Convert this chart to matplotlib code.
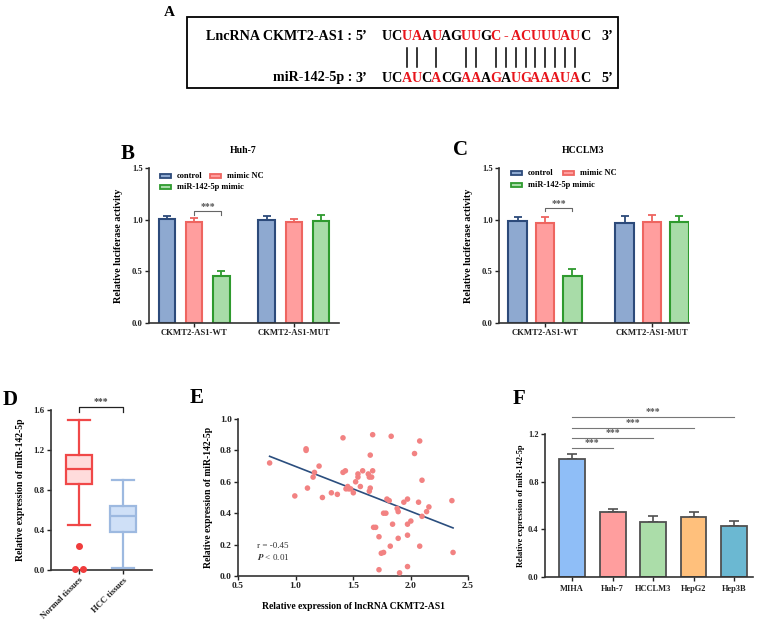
import matplotlib
matplotlib.use('Agg')
import matplotlib.pyplot as plt
from matplotlib.patches import Rectangle
import numpy as np

plt.rcParams['font.family'] = ['Liberation Serif', 'DejaVu Serif']
plt.rcParams['font.weight'] = 'bold'
plt.rcParams['axes.labelweight'] = 'bold'
plt.rcParams['mathtext.fontset'] = 'stix'

W, H = 765, 624

# ---------------- data ----------------
# A: binding site
lnc_label = "LncRNA CKMT2-AS1 :"
mir_label = "miR-142-5p :"
lnc_seq = "UCUAAUAGUUGC-ACUUUAUC"
mir_seq = "UCAUCACGAAAGAUGAAAUAC"
lnc_red = [2, 3, 5, 8, 9, 11, 12, 13, 14, 15, 16, 17, 18, 19]
mir_red = [2, 3, 5, 8, 9, 11, 13, 14, 15, 16, 17, 18, 19]
pair_idx = [2, 3, 5, 8, 9, 11, 12, 13, 14, 15, 16, 17, 18, 19]

# B / C: luciferase
luc_groups = ['CKMT2-AS1-WT', 'CKMT2-AS1-MUT']
luc_series = ['control', 'mimic NC', 'miR-142-5p mimic']
huh7_control = [1.005, 0.997]
huh7_nc = [0.977, 0.977]
huh7_mimic = [0.458, 0.987]
huh7_control_err = [0.035, 0.040]
huh7_nc_err = [0.040, 0.030]
huh7_mimic_err = [0.050, 0.058]
lm3_control = [0.988, 0.965]
lm3_nc = [0.972, 0.978]
lm3_mimic = [0.457, 0.975]
lm3_control_err = [0.036, 0.072]
lm3_nc_err = [0.052, 0.066]
lm3_mimic_err = [0.063, 0.058]

# D: tissues box plot
tissue_labels = ['Normal tissues', 'HCC tissues']
normal_box = [0.453, 0.86, 1.013, 1.153, 1.50]   # whislo, q1, med, q3, whishi
hcc_box = [0.017, 0.38, 0.537, 0.643, 0.903]
normal_out_x = [1.0, 0.9, 1.1]
normal_out_y = [0.243, 0.01, 0.01]

# E: correlation
lnc_expr = [0.775, 0.994, 1.092, 1.092, 1.104, 1.153, 1.165, 1.205, 1.234, 1.312,
            1.364, 1.413, 1.413, 1.434, 1.439, 1.454, 1.462, 1.48, 1.503, 1.523,
            1.543, 1.543, 1.564, 1.584, 1.671, 1.671, 1.65, 1.642, 1.633, 1.642,
            1.662, 1.65, 1.679, 1.697, 1.726, 1.726, 1.746, 1.766, 1.766, 1.786,
            1.795, 1.815, 1.832, 1.824, 1.844, 1.884, 1.893, 1.893, 1.905, 1.942,
            1.974, 1.974, 1.974, 1.974, 2.003, 2.035, 2.07, 2.08, 2.08, 2.10,
            2.10, 2.14, 2.16, 2.36, 2.37]
mir_expr = [0.72, 0.51, 0.81, 0.80, 0.56, 0.63, 0.66, 0.70, 0.50, 0.53,
            0.52, 0.88, 0.66, 0.67, 0.555, 0.57, 0.555, 0.555, 0.53, 0.60,
            0.63, 0.65, 0.57, 0.67, 0.90, 0.67, 0.56, 0.54, 0.65, 0.63,
            0.63, 0.77, 0.31, 0.31, 0.25, 0.04, 0.145, 0.15, 0.40, 0.40,
            0.49, 0.48, 0.89, 0.19, 0.33, 0.43, 0.41, 0.24, 0.02, 0.47,
            0.49, 0.33, 0.26, 0.06, 0.35, 0.78, 0.47, 0.19, 0.86, 0.61,
            0.38, 0.41, 0.44, 0.48, 0.15]
fit_slope = -0.286
fit_intercept = 0.984
r_text = "r = -0.45"

# F: cell lines
cell_lines = ['MIHA', 'Huh-7', 'HCCLM3', 'HepG2', 'Hep3B']
cell_expr = [0.988, 0.549, 0.461, 0.505, 0.430]
cell_err = [0.042, 0.025, 0.052, 0.044, 0.036]
cell_colors = ['#8FBEF7', '#FF9E9E', '#ABDDA9', '#FFC07C', '#6BB8D2']
cell_sig_y = [1.08, 1.165, 1.25, 1.34]

# ---------------- figure ----------------
fig = plt.figure(figsize=(W / 100, H / 100), dpi=100)
fa = fig.add_axes([0, 0, 1, 1])
fa.set_xlim(0, W)
fa.set_ylim(H, 0)
fa.axis('off')


def px_axes(l, t, r, b):
    return fig.add_axes([l / W, 1 - b / H, (r - l) / W, (b - t) / H])


def style(ax, fs=6.2):
    for s in ['top', 'right']:
        ax.spines[s].set_visible(False)
    for s in ['left', 'bottom']:
        ax.spines[s].set_linewidth(1.2)
        ax.spines[s].set_color('#333333')
    ax.tick_params(direction='out', length=3, width=1, labelsize=fs, pad=1.5, colors='#222222')


# panel letters
for lab, x, y, fs in [('A', 169, 12, 11), ('B', 128, 154, 15), ('C', 461, 150, 15),
                      ('D', 10, 400, 15), ('E', 197, 398, 15), ('F', 519, 399, 15)]:
    fa.text(x, y, lab, fontsize=fs, ha='center', va='center', fontweight='bold')

# ---- A ----
fa.add_patch(Rectangle((187, 17), 431, 71, fill=False, lw=1.3, ec='black'))
pitch = 9.9
x0 = 382
afs = 10.2
fa.text(352, 40.5, lnc_label, ha='right', va='baseline', fontsize=afs)
fa.text(361, 40.5, "5\u2019", ha='center', va='baseline', fontsize=afs)
fa.text(352, 81.5, mir_label, ha='right', va='baseline', fontsize=afs)
fa.text(361, 81.5, "3\u2019", ha='center', va='baseline', fontsize=afs)
fa.text(607, 40.5, "3\u2019", ha='center', va='baseline', fontsize=afs)
fa.text(607, 81.5, "5\u2019", ha='center', va='baseline', fontsize=afs)
for i, ch in enumerate(lnc_seq):
    fa.text(x0 + pitch * (i + 0.5), 40.5, ch, ha='center', va='baseline', fontsize=afs,
            color='#E8141B' if i in lnc_red else 'black')
for i, ch in enumerate(mir_seq):
    fa.text(x0 + pitch * (i + 0.5), 81.5, ch, ha='center', va='baseline', fontsize=afs,
            color='#E8141B' if i in mir_red else 'black')
for i in pair_idx:
    xp = x0 + pitch * (i + 0.5)
    fa.plot([xp, xp], [48, 67], color='black', lw=1.1)

# ---- B / C ----
fill_cols = ['#8EA9D0', '#FF9E9E', '#A8DCA8']
edge_cols = ['#2C4A7A', '#EE6560', '#2E9A2E']


def luc_panel(rect, means, errs, gap, width, xlim, title, title_x, br, leg):
    ax = px_axes(*rect)
    for j in range(3):
        xs = [g * gap + j for g in range(2)]
        ax.bar(xs, means[j], width=width, color=fill_cols[j], edgecolor=edge_cols[j],
               linewidth=1.5, zorder=2)
        ax.errorbar(xs, means[j], yerr=[[0, 0], errs[j]], fmt='none', ecolor=edge_cols[j],
                    elinewidth=1.3, capsize=3, capthick=1.3, zorder=1)
    ax.set_xlim(*xlim)
    ax.set_ylim(0, 1.5)
    ax.set_yticks([0, 0.5, 1.0, 1.5])
    ax.set_yticklabels(['0.0', '0.5', '1.0', '1.5'])
    ax.set_xticks([g * gap + 1 for g in range(2)])
    ax.set_xticklabels(luc_groups)
    style(ax)
    ax.set_ylabel('Relative luciferase activity', fontsize=7.3)
    ax.yaxis.set_label_coords(-0.137, 0.5)
    ax.text(title_x, 1.11, title, transform=ax.transAxes, ha='center', va='center', fontsize=7)
    # significance bracket
    ax.plot([1, 1, 2, 2], [br - 0.03, br, br, br - 0.03], color='#666666', lw=0.8, clip_on=False)
    ax.text(1.5, br + 0.005, '***', ha='center', va='bottom', fontsize=7, color='#555555')
    # legend drawn by hand (rows not aligned to a grid in the original)
    hx1, tx1, hx2, tx2, ry1, ry2 = leg
    spots = [(hx1, tx1, ry1), (hx2, tx2, ry1), (hx1, tx1, ry2)]
    for j, (hx, tx, ry) in enumerate(spots):
        ax.add_patch(Rectangle((hx, ry - 0.013), 0.058, 0.026, transform=ax.transAxes,
                               facecolor=fill_cols[j], edgecolor=edge_cols[j], lw=1.3,
                               clip_on=False))
        ax.text(tx, ry, luc_series[j], transform=ax.transAxes, ha='left', va='center',
                fontsize=6)
    return ax


luc_panel((149, 168, 339, 323),
          [huh7_control, huh7_nc, huh7_mimic],
          [huh7_control_err, huh7_nc_err, huh7_mimic_err],
          3.66, 0.6, (-0.65, 6.31), 'Huh-7', 0.495, 1.08,
          (0.058, 0.148, 0.321, 0.41, 0.948, 0.877))
luc_panel((499, 168, 689, 323),
          [lm3_control, lm3_nc, lm3_mimic],
          [lm3_control_err, lm3_nc_err, lm3_mimic_err],
          3.92, 0.68, (-0.68, 6.27), 'HCCLM3', 0.44, 1.11,
          (0.063, 0.153, 0.337, 0.426, 0.968, 0.89))

# ---- D ----
axd = px_axes(51, 410, 152, 570)
box_stats = []
for lab, b in zip(tissue_labels, [normal_box, hcc_box]):
    box_stats.append(dict(label=lab, whislo=b[0], q1=b[1], med=b[2], q3=b[3], whishi=b[4], fliers=[]))
box_edges = ['#F04848', '#9DB9E0']
box_fills = ['#FFDCDC', '#CFE0F7']
for k in range(2):
    axd.bxp([box_stats[k]], positions=[k + 1], widths=0.61, patch_artist=True, showfliers=False,
            capwidths=0.5,
            boxprops=dict(facecolor=box_fills[k], edgecolor=box_edges[k], linewidth=1.6),
            medianprops=dict(color=box_edges[k], linewidth=1.6),
            whiskerprops=dict(color=box_edges[k], linewidth=1.6),
            capprops=dict(color=box_edges[k], linewidth=1.6))
axd.plot(normal_out_x, normal_out_y, 'o', color='#F03C3C', markersize=4, clip_on=False, zorder=5)
axd.set_xlim(0.36, 2.66)
axd.set_ylim(0, 1.6)
axd.set_yticks([0, 0.4, 0.8, 1.2, 1.6])
axd.set_yticklabels(['0.0', '0.4', '0.8', '1.2', '1.6'])
axd.set_xticks([1, 2])
axd.set_xticklabels(tissue_labels, rotation=45, ha='right', rotation_mode='anchor')
style(axd, 6.3)
axd.set_ylabel('Relative expression of miR-142-5p', fontsize=7)
axd.yaxis.set_label_coords(-0.257, 0.5)
axd.plot([1, 1, 2, 2], [1.577, 1.627, 1.627, 1.577], color='#222222', lw=0.9, clip_on=False)
axd.text(1.5, 1.635, '***', ha='center', va='bottom', fontsize=7, color='#444444')

# ---- E ----
axe = px_axes(238, 419, 468, 576)
axe.scatter(lnc_expr, mir_expr, s=16, color='#F28282', edgecolors='none', zorder=3, clip_on=False)
fx = np.array([min(lnc_expr), max(lnc_expr)])
axe.plot(fx, fit_slope * fx + fit_intercept, color='#2B4E7E', lw=1.2, zorder=2)
axe.set_xlim(0.5, 2.5)
axe.set_ylim(0, 1.0)
axe.set_xticks([0.5, 1.0, 1.5, 2.0, 2.5])
axe.set_yticks([0, 0.2, 0.4, 0.6, 0.8, 1.0])
axe.set_yticklabels(['0.0', '0.2', '0.4', '0.6', '0.8', '1.0'])
style(axe, 6.8)
axe.set_ylabel('Relative expression of miR-142-5p', fontsize=6.9)
axe.yaxis.set_label_coords(-0.109, 0.5)
axe.set_xlabel('Relative expression of lncRNA CKMT2-AS1', fontsize=6.9)
axe.xaxis.set_label_coords(0.5, -0.166)
axe.text(0.665, 0.19, r_text, fontsize=6.5, fontweight='normal', color='#333333', va='center')
axe.text(0.665, 0.12, r'$\it{P}$ < 0.01', fontsize=6.5, fontweight='normal', color='#333333',
         va='center')

# ---- F ----
axf = px_axes(545, 434, 753, 577)
xf = np.arange(len(cell_lines))
axf.bar(xf, cell_expr, width=0.64, color=cell_colors, edgecolor='#505050', linewidth=1.3, zorder=2)
axf.errorbar(xf, cell_expr, yerr=[np.zeros(len(cell_err)), cell_err], fmt='none',
             ecolor='#505050', elinewidth=1.2, capsize=3.5, capthick=1.2, zorder=1)
axf.set_xlim(-0.67, 4.47)
axf.set_ylim(0, 1.2)
axf.set_yticks([0, 0.4, 0.8, 1.2])
axf.set_yticklabels(['0.0', '0.4', '0.8', '1.2'])
axf.set_xticks(xf)
axf.set_xticklabels(cell_lines)
style(axf, 6)
axf.tick_params(axis='x', pad=3)
axf.set_ylabel('Relative expression of miR-142-5p', fontsize=6)
axf.yaxis.set_label_coords(-0.096, 0.5)
for k, y in enumerate(cell_sig_y):
    axf.plot([0, k + 1], [y, y], color='#777777', lw=0.8, clip_on=False)
    axf.text((k + 1) / 2, y + 0.01, '***', ha='center', va='bottom', fontsize=7, color='#555555')

fig.savefig('out.png', dpi=100)
